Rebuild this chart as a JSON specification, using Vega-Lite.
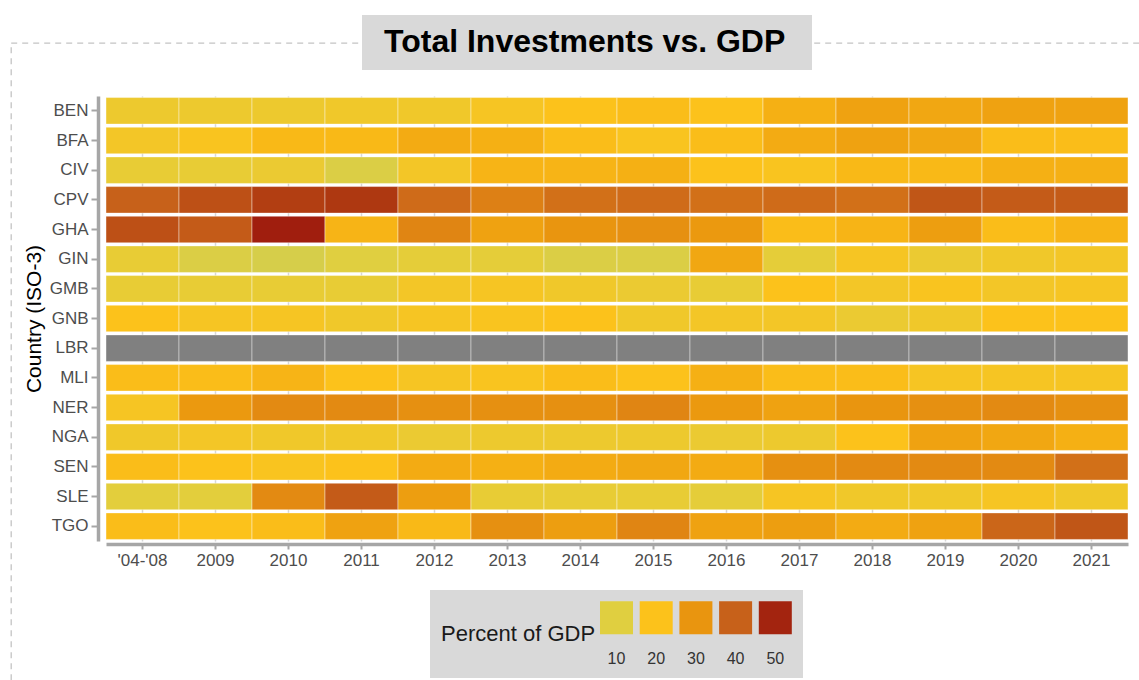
{
  "$schema": "https://vega.github.io/schema/vega-lite/v6.json",
  "width": 1022,
  "height": 445,
  "autosize": {"type": "none"},
  "padding": {"left": 106, "top": 96, "right": 11, "bottom": 139},
  "background": "#ffffff",
  "config": {"font": "Liberation Sans", "view": {"stroke": null}},
  "datasets": {
    "inv": [
      {"c":"BEN","yr":"'04-'08","v":15},{"c":"BEN","yr":"2009","v":15},{"c":"BEN","yr":"2010","v":15},{"c":"BEN","yr":"2011","v":16},{"c":"BEN","yr":"2012","v":16},{"c":"BEN","yr":"2013","v":18},{"c":"BEN","yr":"2014","v":20},{"c":"BEN","yr":"2015","v":21},{"c":"BEN","yr":"2016","v":20},{"c":"BEN","yr":"2017","v":24},{"c":"BEN","yr":"2018","v":27},{"c":"BEN","yr":"2019","v":26},{"c":"BEN","yr":"2020","v":27},{"c":"BEN","yr":"2021","v":27},
      {"c":"BFA","yr":"'04-'08","v":17},{"c":"BFA","yr":"2009","v":19},{"c":"BFA","yr":"2010","v":22},{"c":"BFA","yr":"2011","v":22},{"c":"BFA","yr":"2012","v":25},{"c":"BFA","yr":"2013","v":24},{"c":"BFA","yr":"2014","v":21},{"c":"BFA","yr":"2015","v":19},{"c":"BFA","yr":"2016","v":21},{"c":"BFA","yr":"2017","v":25},{"c":"BFA","yr":"2018","v":27},{"c":"BFA","yr":"2019","v":26},{"c":"BFA","yr":"2020","v":21},{"c":"BFA","yr":"2021","v":21},
      {"c":"CIV","yr":"'04-'08","v":13},{"c":"CIV","yr":"2009","v":13},{"c":"CIV","yr":"2010","v":14},{"c":"CIV","yr":"2011","v":9},{"c":"CIV","yr":"2012","v":17},{"c":"CIV","yr":"2013","v":23},{"c":"CIV","yr":"2014","v":23},{"c":"CIV","yr":"2015","v":24},{"c":"CIV","yr":"2016","v":20},{"c":"CIV","yr":"2017","v":19},{"c":"CIV","yr":"2018","v":22},{"c":"CIV","yr":"2019","v":22},{"c":"CIV","yr":"2020","v":24},{"c":"CIV","yr":"2021","v":24},
      {"c":"CPV","yr":"'04-'08","v":40},{"c":"CPV","yr":"2009","v":43},{"c":"CPV","yr":"2010","v":46},{"c":"CPV","yr":"2011","v":47},{"c":"CPV","yr":"2012","v":38},{"c":"CPV","yr":"2013","v":34},{"c":"CPV","yr":"2014","v":37},{"c":"CPV","yr":"2015","v":38},{"c":"CPV","yr":"2016","v":37},{"c":"CPV","yr":"2017","v":38},{"c":"CPV","yr":"2018","v":37},{"c":"CPV","yr":"2019","v":42},{"c":"CPV","yr":"2020","v":41},{"c":"CPV","yr":"2021","v":41},
      {"c":"GHA","yr":"'04-'08","v":43},{"c":"GHA","yr":"2009","v":41},{"c":"GHA","yr":"2010","v":51},{"c":"GHA","yr":"2011","v":23},{"c":"GHA","yr":"2012","v":33},{"c":"GHA","yr":"2013","v":27},{"c":"GHA","yr":"2014","v":30},{"c":"GHA","yr":"2015","v":31},{"c":"GHA","yr":"2016","v":29},{"c":"GHA","yr":"2017","v":21},{"c":"GHA","yr":"2018","v":23},{"c":"GHA","yr":"2019","v":28},{"c":"GHA","yr":"2020","v":21},{"c":"GHA","yr":"2021","v":23},
      {"c":"GIN","yr":"'04-'08","v":13},{"c":"GIN","yr":"2009","v":9},{"c":"GIN","yr":"2010","v":8},{"c":"GIN","yr":"2011","v":10},{"c":"GIN","yr":"2012","v":12},{"c":"GIN","yr":"2013","v":12},{"c":"GIN","yr":"2014","v":9},{"c":"GIN","yr":"2015","v":9},{"c":"GIN","yr":"2016","v":26},{"c":"GIN","yr":"2017","v":12},{"c":"GIN","yr":"2018","v":18},{"c":"GIN","yr":"2019","v":14},{"c":"GIN","yr":"2020","v":16},{"c":"GIN","yr":"2021","v":17},
      {"c":"GMB","yr":"'04-'08","v":13},{"c":"GMB","yr":"2009","v":13},{"c":"GMB","yr":"2010","v":13},{"c":"GMB","yr":"2011","v":13},{"c":"GMB","yr":"2012","v":17},{"c":"GMB","yr":"2013","v":18},{"c":"GMB","yr":"2014","v":16},{"c":"GMB","yr":"2015","v":14},{"c":"GMB","yr":"2016","v":13},{"c":"GMB","yr":"2017","v":20},{"c":"GMB","yr":"2018","v":17},{"c":"GMB","yr":"2019","v":19},{"c":"GMB","yr":"2020","v":17},{"c":"GMB","yr":"2021","v":18},
      {"c":"GNB","yr":"'04-'08","v":20},{"c":"GNB","yr":"2009","v":18},{"c":"GNB","yr":"2010","v":18},{"c":"GNB","yr":"2011","v":16},{"c":"GNB","yr":"2012","v":18},{"c":"GNB","yr":"2013","v":19},{"c":"GNB","yr":"2014","v":20},{"c":"GNB","yr":"2015","v":16},{"c":"GNB","yr":"2016","v":17},{"c":"GNB","yr":"2017","v":17},{"c":"GNB","yr":"2018","v":14},{"c":"GNB","yr":"2019","v":16},{"c":"GNB","yr":"2020","v":20},{"c":"GNB","yr":"2021","v":20},
      {"c":"LBR","yr":"'04-'08","v":null},{"c":"LBR","yr":"2009","v":null},{"c":"LBR","yr":"2010","v":null},{"c":"LBR","yr":"2011","v":null},{"c":"LBR","yr":"2012","v":null},{"c":"LBR","yr":"2013","v":null},{"c":"LBR","yr":"2014","v":null},{"c":"LBR","yr":"2015","v":null},{"c":"LBR","yr":"2016","v":null},{"c":"LBR","yr":"2017","v":null},{"c":"LBR","yr":"2018","v":null},{"c":"LBR","yr":"2019","v":null},{"c":"LBR","yr":"2020","v":null},{"c":"LBR","yr":"2021","v":null},
      {"c":"MLI","yr":"'04-'08","v":21},{"c":"MLI","yr":"2009","v":21},{"c":"MLI","yr":"2010","v":23},{"c":"MLI","yr":"2011","v":20},{"c":"MLI","yr":"2012","v":18},{"c":"MLI","yr":"2013","v":19},{"c":"MLI","yr":"2014","v":21},{"c":"MLI","yr":"2015","v":20},{"c":"MLI","yr":"2016","v":24},{"c":"MLI","yr":"2017","v":21},{"c":"MLI","yr":"2018","v":21},{"c":"MLI","yr":"2019","v":18},{"c":"MLI","yr":"2020","v":18},{"c":"MLI","yr":"2021","v":18},
      {"c":"NER","yr":"'04-'08","v":18},{"c":"NER","yr":"2009","v":29},{"c":"NER","yr":"2010","v":32},{"c":"NER","yr":"2011","v":32},{"c":"NER","yr":"2012","v":31},{"c":"NER","yr":"2013","v":31},{"c":"NER","yr":"2014","v":31},{"c":"NER","yr":"2015","v":33},{"c":"NER","yr":"2016","v":29},{"c":"NER","yr":"2017","v":27},{"c":"NER","yr":"2018","v":30},{"c":"NER","yr":"2019","v":31},{"c":"NER","yr":"2020","v":32},{"c":"NER","yr":"2021","v":31},
      {"c":"NGA","yr":"'04-'08","v":16},{"c":"NGA","yr":"2009","v":17},{"c":"NGA","yr":"2010","v":16},{"c":"NGA","yr":"2011","v":16},{"c":"NGA","yr":"2012","v":14},{"c":"NGA","yr":"2013","v":15},{"c":"NGA","yr":"2014","v":15},{"c":"NGA","yr":"2015","v":15},{"c":"NGA","yr":"2016","v":14},{"c":"NGA","yr":"2017","v":15},{"c":"NGA","yr":"2018","v":20},{"c":"NGA","yr":"2019","v":27},{"c":"NGA","yr":"2020","v":26},{"c":"NGA","yr":"2021","v":24},
      {"c":"SEN","yr":"'04-'08","v":21},{"c":"SEN","yr":"2009","v":20},{"c":"SEN","yr":"2010","v":19},{"c":"SEN","yr":"2011","v":20},{"c":"SEN","yr":"2012","v":25},{"c":"SEN","yr":"2013","v":24},{"c":"SEN","yr":"2014","v":25},{"c":"SEN","yr":"2015","v":26},{"c":"SEN","yr":"2016","v":25},{"c":"SEN","yr":"2017","v":31},{"c":"SEN","yr":"2018","v":32},{"c":"SEN","yr":"2019","v":32},{"c":"SEN","yr":"2020","v":32},{"c":"SEN","yr":"2021","v":37},
      {"c":"SLE","yr":"'04-'08","v":11},{"c":"SLE","yr":"2009","v":11},{"c":"SLE","yr":"2010","v":32},{"c":"SLE","yr":"2011","v":41},{"c":"SLE","yr":"2012","v":28},{"c":"SLE","yr":"2013","v":13},{"c":"SLE","yr":"2014","v":13},{"c":"SLE","yr":"2015","v":13},{"c":"SLE","yr":"2016","v":12},{"c":"SLE","yr":"2017","v":18},{"c":"SLE","yr":"2018","v":16},{"c":"SLE","yr":"2019","v":16},{"c":"SLE","yr":"2020","v":18},{"c":"SLE","yr":"2021","v":16},
      {"c":"TGO","yr":"'04-'08","v":21},{"c":"TGO","yr":"2009","v":20},{"c":"TGO","yr":"2010","v":21},{"c":"TGO","yr":"2011","v":27},{"c":"TGO","yr":"2012","v":22},{"c":"TGO","yr":"2013","v":31},{"c":"TGO","yr":"2014","v":28},{"c":"TGO","yr":"2015","v":33},{"c":"TGO","yr":"2016","v":27},{"c":"TGO","yr":"2017","v":28},{"c":"TGO","yr":"2018","v":25},{"c":"TGO","yr":"2019","v":27},{"c":"TGO","yr":"2020","v":39},{"c":"TGO","yr":"2021","v":42}
    ],
    "one": [{"k": "a"}]
  },
  "layer": [
    {
      "data": {"name": "inv"},
      "transform": [{"filter": "datum.v != null"}],
      "mark": {"type": "rect", "stroke": "#ffffff", "strokeWidth": 0.8, "strokeOpacity": 0.5},
      "encoding": {
        "x": {
          "field": "yr", "type": "nominal",
          "sort": ["'04-'08","2009","2010","2011","2012","2013","2014","2015","2016","2017","2018","2019","2020","2021"],
          "scale": {"paddingInner": 0, "paddingOuter": 0},
          "axis": {"title": null, "orient": "bottom", "offset": 3, "domainColor": "#a6a6a6", "domainWidth": 3.5, "tickColor": "#a6a6a6", "tickWidth": 2, "tickSize": 5, "labelFontSize": 17, "labelColor": "#4d4d4d", "labelPadding": 3, "labelAngle": 0, "grid": true, "gridColor": "#d6d6d6", "gridWidth": 1.5, "bandPosition": 0.5, "zindex": 0}
        },
        "y": {
          "field": "c", "type": "nominal",
          "sort": ["BEN","BFA","CIV","CPV","GHA","GIN","GMB","GNB","LBR","MLI","NER","NGA","SEN","SLE","TGO"],
          "scale": {"paddingInner": 0.105, "paddingOuter": 0.0525},
          "axis": {"title": "Country (ISO-3)", "offset": 8, "domainColor": "#a6a6a6", "domainWidth": 3.5, "tickColor": "#a6a6a6", "tickWidth": 2, "tickSize": 7, "labelFontSize": 17, "labelColor": "#4d4d4d", "labelPadding": 3, "titleFontSize": 21, "titleFontWeight": "normal", "titleColor": "#000000", "titlePadding": 5, "grid": false, "zindex": 0}
        },
        "color": {
          "field": "v", "type": "quantitative",
          "scale": {"domain": [7, 10, 20, 30, 40, 50, 52], "range": ["#d2cd4f", "#e0cf40", "#fcc21b", "#e9950f", "#c7611a", "#a3240f", "#9c180d"], "clamp": true},
          "legend": {
            "title": "Percent of GDP", "type": "symbol", "values": [10, 20, 30, 40, 50],
            "orient": "none", "legendX": 324, "legendY": 494, "direction": "horizontal",
            "titleOrient": "left", "titleFontSize": 22, "titleFontWeight": "normal", "titleColor": "#1a1a1a", "titlePadding": 4, "titleAnchor": "middle", "titleBaseline": "middle",
            "symbolType": "square", "symbolSize": 1089, "symbolStrokeWidth": 0, "symbolOpacity": 1,
            "labelFontSize": 16, "labelColor": "#333333", "labelAlign": "center", "labelBaseline": "top", "labelOffset": -16.5,
            "columnPadding": 6.7, "fillColor": "#d9d9d9", "padding": 11, "zindex": 2,
            "encoding": {"labels": {"dy": {"value": 33}}}
          }
        }
      }
    },
    {
      "data": {"name": "inv"},
      "transform": [{"filter": "datum.v == null"}],
      "mark": {"type": "rect", "fill": "#808080", "stroke": "#ffffff", "strokeWidth": 0.8, "strokeOpacity": 0.5},
      "encoding": {
        "x": {"field": "yr", "type": "nominal", "sort": ["'04-'08","2009","2010","2011","2012","2013","2014","2015","2016","2017","2018","2019","2020","2021"]},
        "y": {"field": "c", "type": "nominal", "sort": ["BEN","BFA","CIV","CPV","GHA","GIN","GMB","GNB","LBR","MLI","NER","NGA","SEN","SLE","TGO"]}
      }
    },
    {
      "data": {"name": "one"},
      "mark": {"type": "point", "opacity": 0},
      "encoding": {
        "shape": {
          "datum": "t",
          "legend": {
            "title": "Total Investments vs. GDP", "orient": "none", "legendX": 256, "legendY": -81, "direction": "horizontal",
            "titleOrient": "left", "titleFontSize": 32, "titleFontWeight": "bold", "titleColor": "#000000", "titleLimit": 1000, "titlePadding": 23, "titleBaseline": "top", "titleAnchor": "start",
            "fillColor": "#d9d9d9", "padding": 12, "symbolSize": 0, "symbolOpacity": 0, "symbolStrokeWidth": 0,
            "labelExpr": "''", "labelFontSize": 1, "labelOffset": 0, "zindex": 3,
            "encoding": {"title": {"dx": {"value": 10}}}
          }
        }
      }
    },
    {
      "data": {"name": "one"},
      "mark": {"type": "point", "opacity": 0},
      "encoding": {
        "strokeDash": {
          "datum": "f",
          "legend": {
            "title": null, "orient": "none", "legendX": -95, "legendY": -53,
            "padding": 570, "strokeColor": "#c4c4c4", "symbolSize": 0, "symbolOpacity": 0, "symbolStrokeWidth": 0,
            "labelExpr": "''", "labelFontSize": 1, "labelOffset": 0, "zindex": 1,
            "encoding": {"legend": {"strokeDash": {"value": [6, 5]}, "strokeWidth": {"value": 1.3}}}
          }
        }
      }
    }
  ]
}
